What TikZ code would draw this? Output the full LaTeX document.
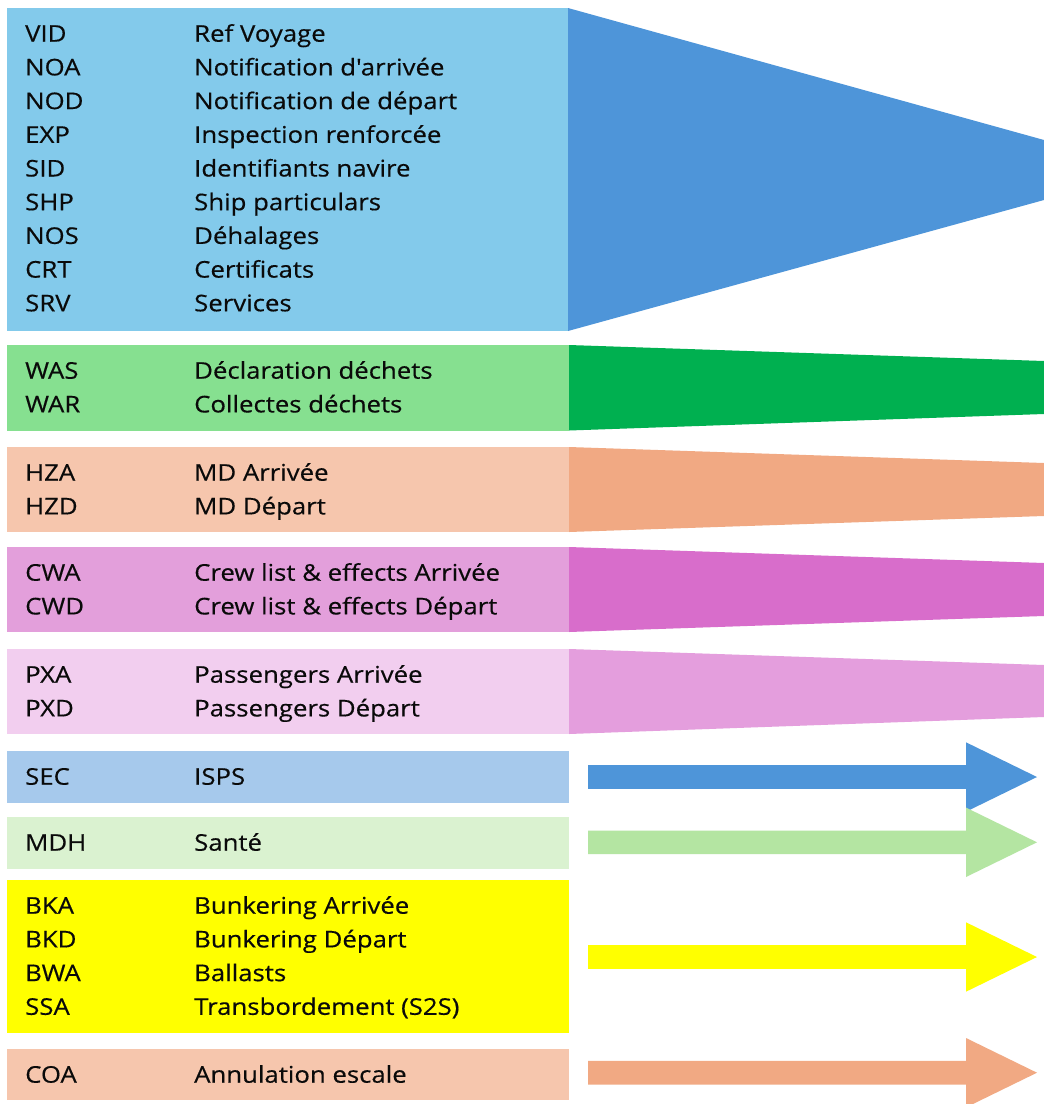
\documentclass[tikz,border=0pt]{standalone}
\usepackage{fontspec}
\setmainfont{Open Sans}[Ligatures=TeXOff, FakeStretch=1.12, FakeBold=0.4]
\definecolor{bluelt}{HTML}{83CAEB}
\definecolor{bluedk}{HTML}{4E95D9}
\definecolor{greenlt}{HTML}{86E090}
\definecolor{greendk}{HTML}{00B050}
\definecolor{orangelt}{HTML}{F6C6AD}
\definecolor{orangedk}{HTML}{F1A983}
\definecolor{purplelt}{HTML}{E39FDB}
\definecolor{purpledk}{HTML}{D86DCB}
\definecolor{pinklt}{HTML}{F2CEEF}
\definecolor{pinkdk}{HTML}{E49EDD}
\definecolor{seclt}{HTML}{A6C9EC}
\definecolor{mdhlt}{HTML}{DAF2D0}
\definecolor{mdhdk}{HTML}{B4E5A2}
\definecolor{yel}{HTML}{FFFF00}
\definecolor{txt}{HTML}{0A0A0A}
\tikzset{
  lbl/.style={anchor=base west, inner sep=0pt, text=txt, font=\fontsize{23}{27}\selectfont},
}
\newcommand{\rowtext}[4]{%
  \node[lbl] (#1c) at (25,#2) {#3};
  \node[lbl] (#1d) at (194,#2) {#4};
}
\newcommand{\bigarrow}[3]{% y-center, color, name
  \fill[#2] (588,#1-11.8) -- (966,#1-11.8) -- (966,#1-34.7) -- (1037,#1) -- (966,#1+34.7) -- (966,#1+11.8) -- (588,#1+11.8) -- cycle;
}
\begin{document}
\begin{tikzpicture}[x=1pt,y=-1pt]
\useasboundingbox (0,0) rectangle (1044,1104);
\fill[white] (0,0) rectangle (1044,1104);
% group 1
\fill[bluelt] (7,8) rectangle (569,331);
\fill[bluedk] (568,8) -- (1044,140) -- (1044,200) -- (568,331) -- cycle;
\rowtext{a1}{41.7}{VID}{Ref Voyage}
\rowtext{a2}{75.4}{NOA}{Notification d'arrivée}
\rowtext{a3}{109.1}{NOD}{Notification de départ}
\rowtext{a4}{142.8}{EXP}{Inspection renforcée}
\rowtext{a5}{176.5}{SID}{Identifiants navire}
\rowtext{a6}{210.2}{SHP}{Ship particulars}
\rowtext{a7}{243.9}{NOS}{Déhalages}
\rowtext{a8}{277.6}{CRT}{Certificats}
\rowtext{a9}{311.3}{SRV}{Services}
% group 2
\fill[greenlt] (7,345) rectangle (569,430.5);
\fill[greendk] (569,345) -- (1044,361) -- (1044,414) -- (569,430.5) -- cycle;
\rowtext{b1}{378.7}{WAS}{Déclaration déchets}
\rowtext{b2}{412.4}{WAR}{Collectes déchets}
% group 3
\fill[orangelt] (7,447) rectangle (569,532);
\fill[orangedk] (569,447) -- (1044,463) -- (1044,516) -- (569,532) -- cycle;
\rowtext{c1}{480.7}{HZA}{MD Arrivée}
\rowtext{c2}{514.4}{HZD}{MD Départ}
% group 4
\fill[purplelt] (7,547) rectangle (569,632);
\fill[purpledk] (569,547) -- (1044,563) -- (1044,616) -- (569,632) -- cycle;
\rowtext{d1}{580.7}{CWA}{Crew list \& effects Arrivée}
\rowtext{d2}{614.4}{CWD}{Crew list \& effects Départ}
% group 5
\fill[pinklt] (7,649) rectangle (569,734);
\fill[pinkdk] (569,649) -- (1044,665) -- (1044,717) -- (569,734) -- cycle;
\rowtext{e1}{682.7}{PXA}{Passengers Arrivée}
\rowtext{e2}{716.4}{PXD}{Passengers Départ}
% SEC
\fill[seclt] (7,751) rectangle (569,803);
\rowtext{f1}{784.7}{SEC}{ISPS}
\bigarrow{777}{bluedk}{arrF}
% MDH
\fill[mdhlt] (7,817) rectangle (569,868.7);
\rowtext{g1}{850.7}{MDH}{Santé}
\bigarrow{842.3}{mdhdk}{arrG}
% yellow
\fill[yel] (7,880) rectangle (569,1033);
\rowtext{h1}{913.7}{BKA}{Bunkering Arrivée}
\rowtext{h2}{947.4}{BKD}{Bunkering Départ}
\rowtext{h3}{981.1}{BWA}{Ballasts}
\rowtext{h4}{1014.8}{SSA}{Transbordement (S2S)}
\bigarrow{957}{yel}{arrH}
% COA
\fill[orangelt] (7,1049) rectangle (569,1100);
\rowtext{i1}{1082.7}{COA}{Annulation escale}
\bigarrow{1072.7}{orangedk}{arrI}
\end{tikzpicture}
\end{document}
